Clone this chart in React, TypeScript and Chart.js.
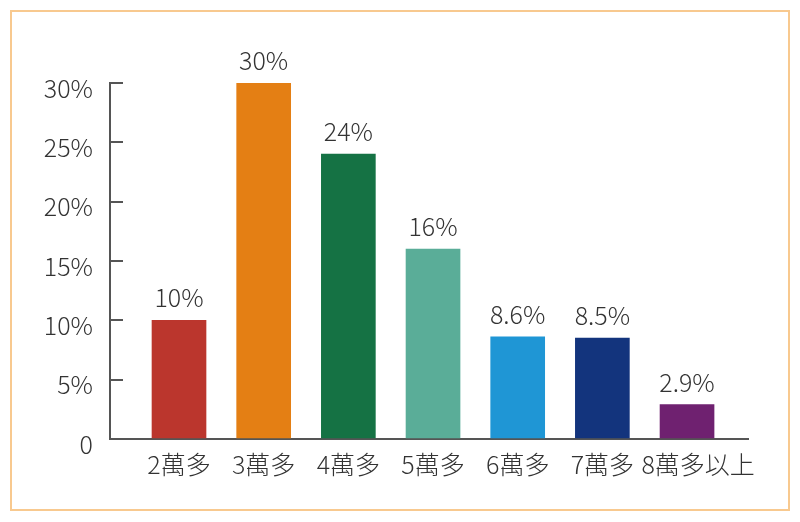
import { useEffect, useRef } from 'react';
import Chart from 'chart.js/auto';

const categories = ['2萬多', '3萬多', '4萬多', '5萬多', '6萬多', '7萬多', '8萬多以上'];
const shares = [10, 30, 24, 16, 8.6, 8.5, 2.9];
const barColors = ['#bb362d', '#e47f14', '#157244', '#5aad98', '#1f96d5', '#13347d', '#6f2170'];
const yTicks = [0, 5, 10, 15, 20, 25, 30];

const FONT = '"Noto Sans CJK TC", "Noto Sans", sans-serif';

// the long last label sits a little right of its bar in the original
const labelFor = (i: number) => (categories[i].length > 3 ? `    ${categories[i]}` : categories[i]);

const valueLabels = {
  id: 'valueLabels',
  afterDatasetsDraw(chart: any) {
    const { ctx } = chart;
    const meta = chart.getDatasetMeta(0);
    ctx.save();
    ctx.font = `300 25px ${FONT}`;
    ctx.fillStyle = '#333';
    ctx.textAlign = 'center';
    ctx.textBaseline = 'alphabetic';
    meta.data.forEach((bar: any, i: number) => {
      ctx.fillText(`${shares[i]}%`, bar.x, bar.y - 13);
    });
    ctx.restore();
  },
};

export default function App() {
  const canvas = useRef<HTMLCanvasElement>(null);

  useEffect(() => {
    if (!canvas.current) return;
    const chart = new Chart(canvas.current, {
      type: 'bar',
      data: {
        datasets: [
          {
            data: shares.map((v, i) => ({ x: i, y: v })),
            backgroundColor: barColors,
            barThickness: 54,
          },
        ],
      },
      options: {
        animation: false,
        responsive: false,
        layout: { padding: { left: 0, right: 52, top: 83, bottom: 0 } },
        plugins: { legend: { display: false }, tooltip: { enabled: false } },
        scales: {
          x: {
            type: 'linear',
            offset: false,
            min: -0.815,
            max: 6.72,
            afterFit: (s: any) => {
              s.height = 83;
            },
            grid: { display: false, drawTicks: false, offset: false },
            border: { display: true, color: '#555', width: 2 },
            ticks: {
              stepSize: 1,
              includeBounds: false,
              autoSkip: false,
              maxRotation: 0,
              padding: 10,
              color: '#333',
              font: { family: FONT, size: 25, weight: 300 },
              callback: (v: any) => (Number.isInteger(v) ? labelFor(v) : ''),
            },
          },
          y: {
            min: 0,
            max: 30,
            afterFit: (s: any) => {
              s.width = 110;
            },
            afterBuildTicks: (s: any) => {
              s.ticks = yTicks.map((v) => ({ value: v }));
            },
            grid: {
              drawOnChartArea: false,
              drawTicks: true,
              tickLength: -13,
              color: '#555',
              lineWidth: 2,
            },
            border: { display: true, color: '#555', width: 2 },
            ticks: {
              padding: 30,
              labelOffset: 5,
              color: '#333',
              font: { family: FONT, size: 25, weight: 300 },
              callback: (v: any) => (v === 0 ? '0' : `${v}%`),
            },
          },
        },
      },
      plugins: [valueLabels],
    });
    return () => chart.destroy();
  }, []);

  return (
    <div style={{ position: 'fixed', left: 0, top: 0, width: 800, height: 522, background: '#fff' }}>
      <div
        style={{
          position: 'absolute',
          left: 10,
          top: 10,
          width: 776,
          height: 497,
          border: '2px solid #f8c98f',
        }}
      />
      <canvas
        ref={canvas}
        width={800}
        height={522}
        style={{ position: 'absolute', left: 0, top: 0, width: 800, height: 522 }}
      />
    </div>
  );
}
